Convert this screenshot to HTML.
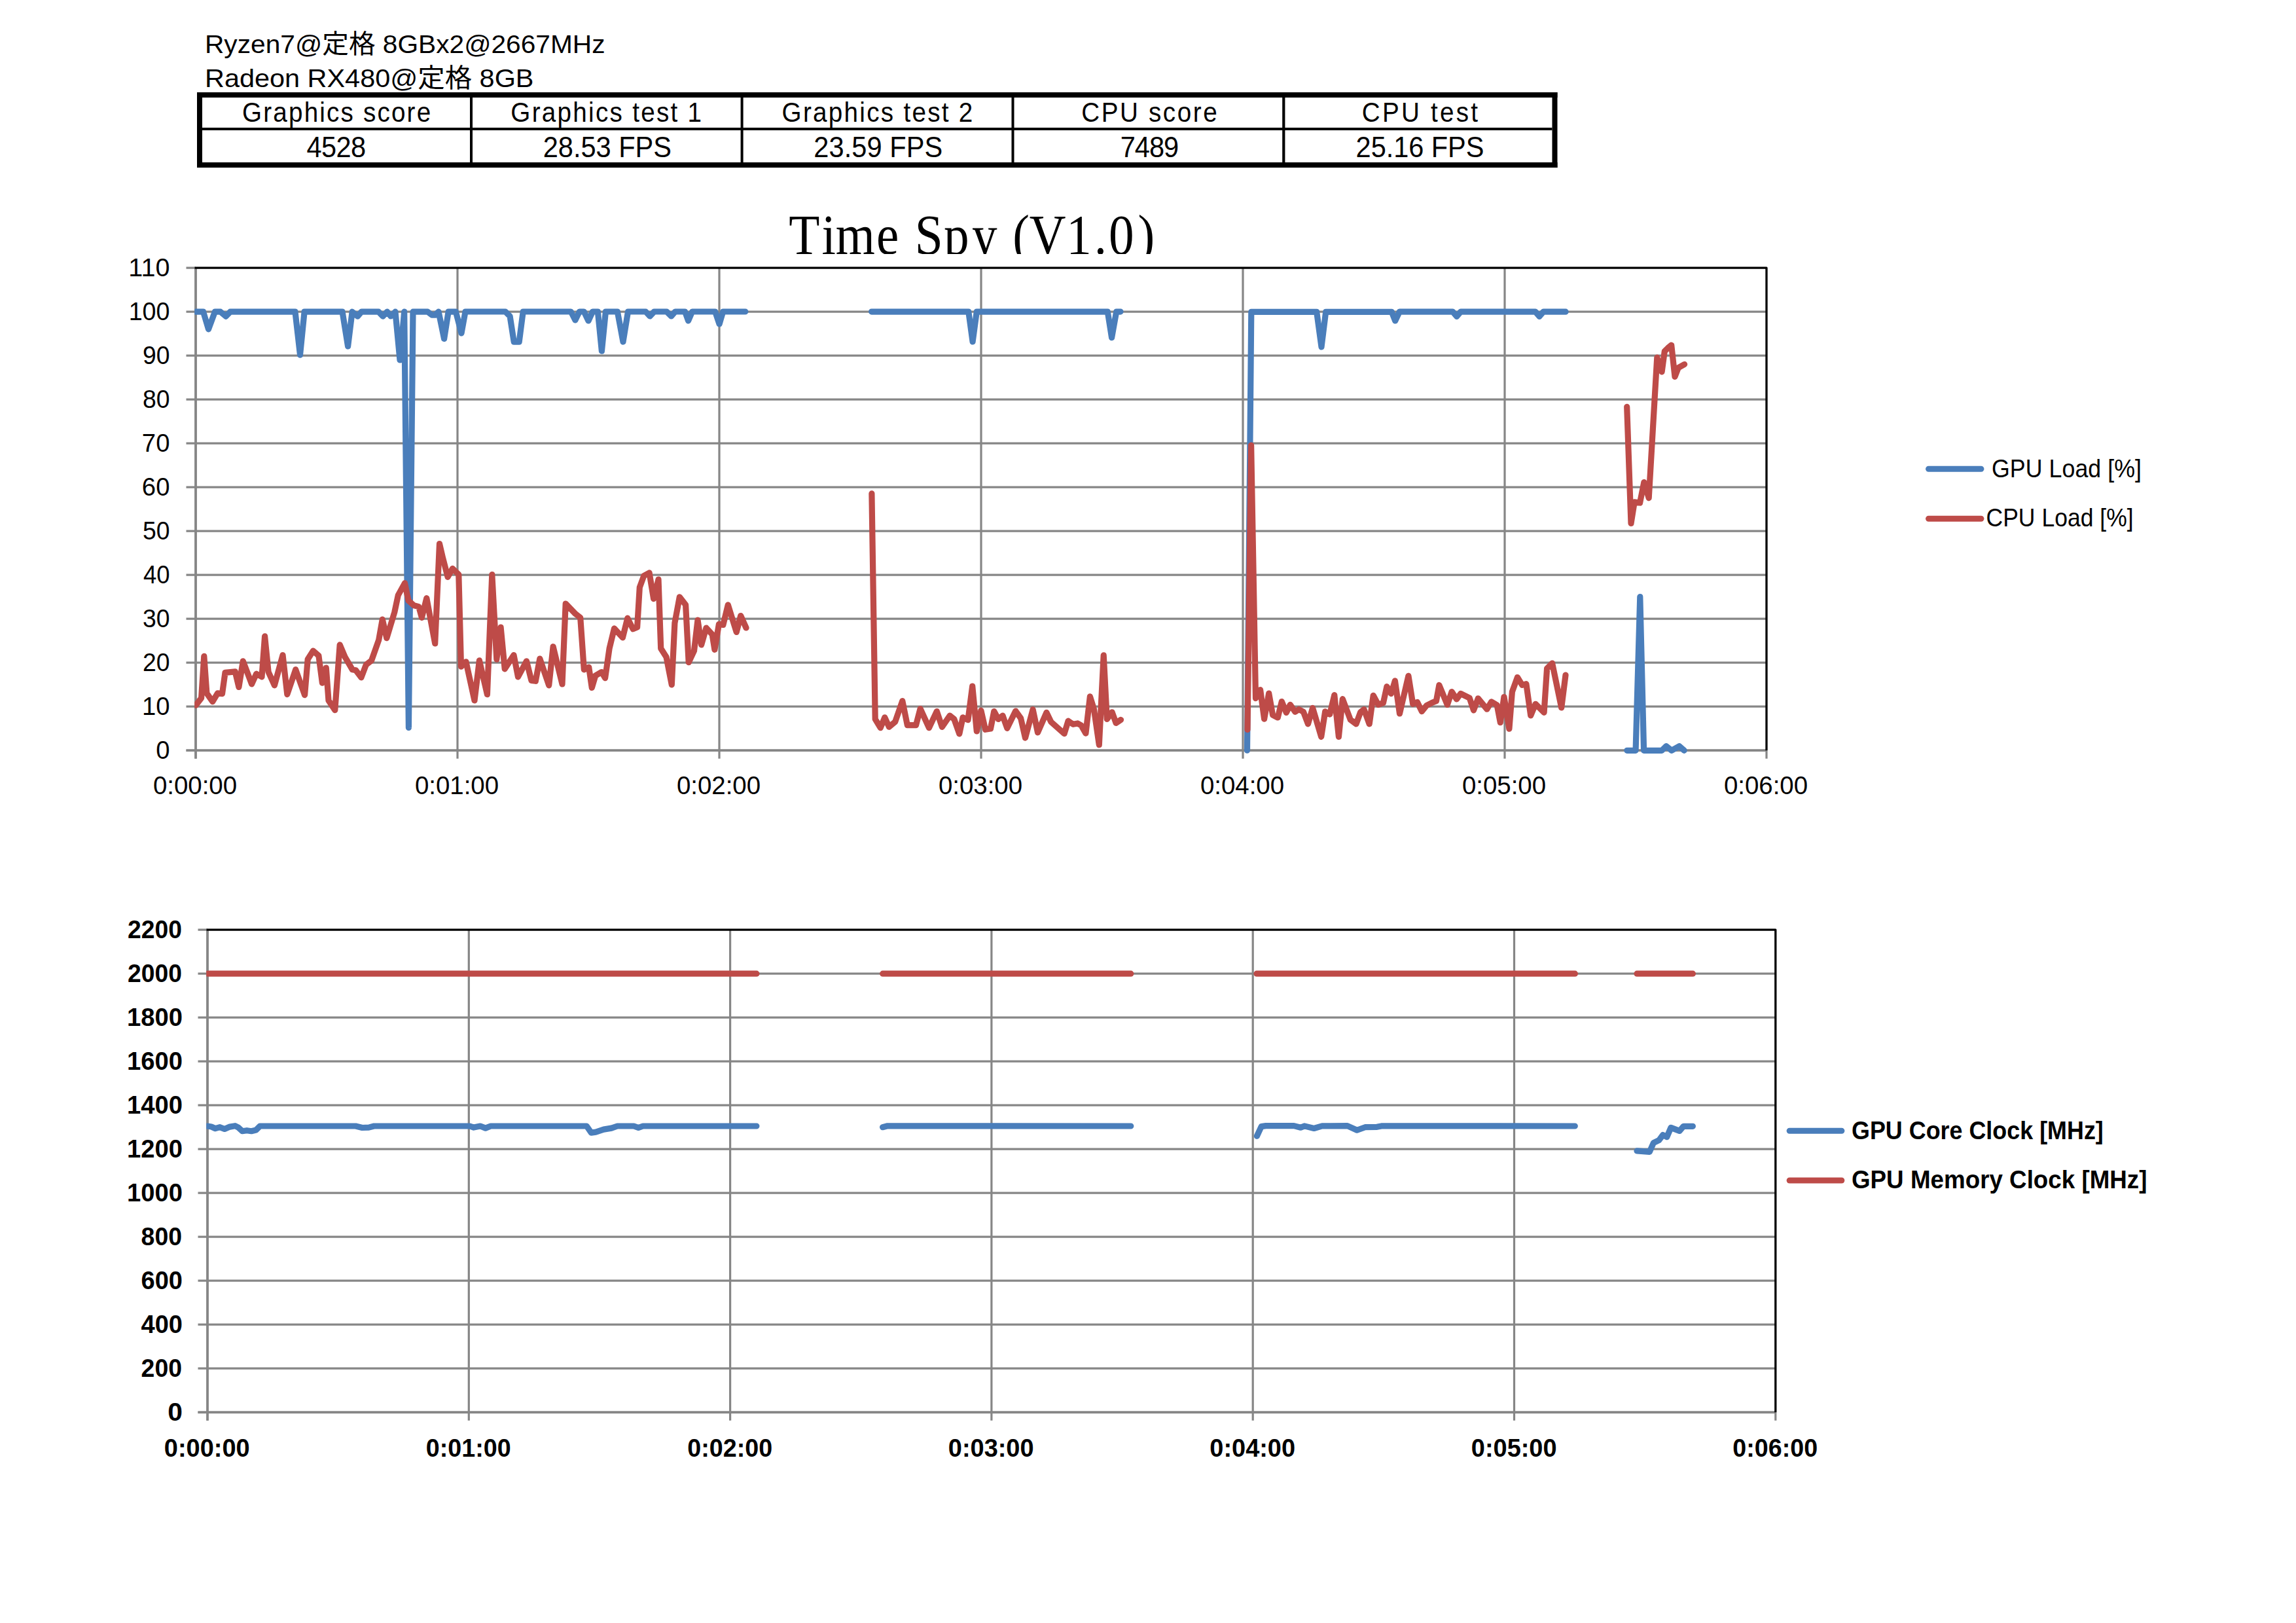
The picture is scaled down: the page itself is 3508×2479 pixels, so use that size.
<!DOCTYPE html><html><head><meta charset="utf-8"><title>Time Spy (V1.0)</title><style>html,body{margin:0;padding:0;background:#fff;overflow:hidden;width:3508px;height:2479px;}svg{display:block;}</style></head><body>
<svg width="3508" height="2479" viewBox="0 0 3508 2479">
<rect x="0" y="0" width="3508" height="2479" fill="#fff"/>
<defs><clipPath id="tc"><rect x="1100" y="250" width="800" height="138.0"/></clipPath></defs>
<rect x="301.0" y="141.0" width="2078.5" height="8.0" fill="#000"/>
<rect x="301.0" y="248.0" width="2078.5" height="8.0" fill="#000"/>
<rect x="301.0" y="141.0" width="8.0" height="115.0" fill="#000"/>
<rect x="2371.5" y="141.0" width="8.0" height="115.0" fill="#000"/>
<rect x="309.0" y="195.0" width="2062.5" height="4.0" fill="#000"/>
<rect x="718.0" y="149.0" width="4.0" height="99.0" fill="#000"/>
<rect x="1131.6" y="149.0" width="4.0" height="99.0" fill="#000"/>
<rect x="1545.5" y="149.0" width="4.0" height="99.0" fill="#000"/>
<rect x="1959.2" y="149.0" width="4.2" height="99.0" fill="#000"/>
<path d="M284.5 1146.2H2699.0 M284.5 1079.2H2699.0 M284.5 1012.2H2699.0 M284.5 945.2H2699.0 M284.5 878.2H2699.0 M284.5 811.2H2699.0 M284.5 744.2H2699.0 M284.5 677.2H2699.0 M284.5 610.2H2699.0 M284.5 543.2H2699.0 M284.5 476.2H2699.0 M284.5 409.2H299.0 M299.0 409.2V1158.7 M699.0 409.2V1158.7 M1099.0 409.2V1158.7 M1499.0 409.2V1158.7 M1899.0 409.2V1158.7 M2299.0 409.2V1158.7 M2699.0 1146.2V1158.7" stroke="#868686" stroke-width="3.2" fill="none"/>
<path d="M299.0 409.2V1158.7 M284.5 1146.2H2699.0" stroke="#868686" stroke-width="3.6" fill="none"/>
<path d="M297.5 409.2H2699.0V1146.2" stroke="#000" stroke-width="3.3" fill="none" stroke-linejoin="round"/>
<path d="M302.5 2157.2H2712.8 M302.5 2090.2H2712.8 M302.5 2023.2H2712.8 M302.5 1956.2H2712.8 M302.5 1889.2H2712.8 M302.5 1822.2H2712.8 M302.5 1755.2H2712.8 M302.5 1688.2H2712.8 M302.5 1621.2H2712.8 M302.5 1554.2H2712.8 M302.5 1487.2H2712.8 M302.5 1420.2H317.0 M317.0 1420.2V2169.7 M716.3 1420.2V2169.7 M1115.6 1420.2V2169.7 M1514.9 1420.2V2169.7 M1914.2 1420.2V2169.7 M2313.5 1420.2V2169.7 M2712.8 2157.2V2169.7" stroke="#868686" stroke-width="3.2" fill="none"/>
<path d="M317.0 1420.2V2169.7 M302.5 2157.2H2712.8" stroke="#868686" stroke-width="3.6" fill="none"/>
<path d="M315.5 1420.2H2712.8V2157.2" stroke="#000" stroke-width="3.3" fill="none" stroke-linejoin="round"/>
<defs><clipPath id="c1"><rect x="297.2" y="380" width="2420" height="800"/></clipPath><clipPath id="c2"><rect x="315.2" y="1390" width="2420" height="800"/></clipPath></defs>
<g clip-path="url(#c1)">
<polyline points="299.4,476.2 310.6,476.2 318.5,502.8 328.4,476.2 336.8,476.2 345.2,483.1 351.8,476.2 451.0,476.2 458.5,542.1 465.1,476.2 523.1,476.2 531.6,529.0 538.1,476.2 546.5,483.1 552.2,476.2 578.4,476.2 585.0,483.1 591.5,476.2 597.1,483.0 604.0,476.2 611.0,550.0 617.7,476.2 624.4,1111.4 631.0,476.2 653.3,476.2 659.9,481.2 664.5,481.2 670.1,476.2 678.6,517.5 685.1,476.2 696.4,476.2 705.0,509.0 711.0,476.0 772.1,476.0 779.1,483.0 785.2,522.1 793.2,522.1 799.2,476.0 872.3,476.0 878.9,489.0 885.3,476.0 892.3,476.0 899.0,490.0 905.4,476.0 913.4,476.0 919.4,536.2 925.4,476.0 943.4,476.0 952.0,522.1 959.5,476.0 986.5,476.0 992.9,483.0 999.5,476.0 1018.6,476.0 1025.6,483.0 1031.6,476.0 1046.6,476.0 1051.6,490.0 1057.6,476.0 1092.7,476.0 1099.1,495.0 1104.7,476.0 1138.8,476.0" fill="none" stroke="#4A7EBB" stroke-width="9.2" stroke-linejoin="round" stroke-linecap="round"/>
<polyline points="1331.6,476.1 1479.8,476.1 1486.1,522.0 1492.3,476.1 1692.3,476.1 1698.6,515.7 1705.7,476.1 1712.0,476.1" fill="none" stroke="#4A7EBB" stroke-width="9.2" stroke-linejoin="round" stroke-linecap="round"/>
<polyline points="1905.5,1146.2 1911.8,476.3 2011.7,476.3 2019.0,530.0 2025.7,476.3 2126.3,476.3 2131.7,490.0 2138.2,476.2 2219.7,476.2 2225.7,483.4 2231.7,476.2 2346.0,476.2 2352.0,483.4 2358.0,476.2 2392.1,476.2" fill="none" stroke="#4A7EBB" stroke-width="9.2" stroke-linejoin="round" stroke-linecap="round"/>
<polyline points="2485.8,1146.3 2499.1,1146.3 2505.8,911.6 2511.6,1146.3 2539.1,1146.3 2545.7,1139.7 2554.1,1146.3 2565.7,1139.7 2573.2,1146.3" fill="none" stroke="#4A7EBB" stroke-width="9.2" stroke-linejoin="round" stroke-linecap="round"/>
<polyline points="299.2,1077.3 307.6,1066.2 311.8,1002.4 315.9,1058.8 324.8,1071.7 332.5,1058.8 339.5,1059.7 344.0,1027.4 359.3,1025.9 364.9,1049.5 371.3,1009.8 384.6,1044.9 391.7,1029.2 400.0,1033.8 404.6,971.9 410.1,1026.4 419.4,1046.8 432.0,1000.6 438.8,1060.6 451.7,1022.7 465.6,1061.6 470.2,1007.0 478.5,994.1 486.9,1001.5 492.4,1043.2 498.3,1020.0 502.0,1069.9 511.8,1084.7 519.2,984.9 527.0,1003.4 538.4,1022.8 543.6,1023.7 551.9,1034.8 559.3,1015.4 567.6,1008.9 578.7,977.5 584.3,946.0 590.8,974.7 602.8,935.0 608.3,909.1 618.5,890.6 624.0,917.4 632.4,924.8 639.8,926.6 644.4,943.3 651.8,913.7 664.7,983.0 671.5,830.5 676.7,852.7 684.1,881.3 691.5,868.4 700.8,877.6 704.5,1018.2 712.0,1010.8 725.0,1069.9 732.4,1008.9 744.4,1060.7 751.8,877.6 758.8,1007.1 765.1,958.1 771.2,1021.8 785.0,1000.6 791.5,1033.9 804.5,1009.8 811.9,1039.4 818.3,1040.3 824.8,1006.1 838.7,1046.8 845.1,987.7 859.0,1045.0 864.2,922.0 879.3,937.7 886.7,943.3 892.3,1022.8 899.7,1019.1 904.3,1050.5 909.8,1032.0 919.1,1026.5 924.6,1035.7 931.1,990.4 938.5,959.9 951.4,973.8 958.8,944.2 967.1,960.8 973.6,958.1 977.3,897.1 983.8,879.5 992.1,874.9 998.6,914.6 1006.0,885.0 1009.7,990.4 1018.0,1003.4 1026.3,1045.9 1030.9,951.6 1038.3,911.9 1047.6,923.9 1052.2,1011.7 1060.5,994.1 1066.0,947.0 1071.6,984.9 1079.0,959.0 1088.2,969.2 1091.9,992.3 1098.4,953.4 1104.9,954.4 1112.3,923.9 1125.2,965.5 1131.7,940.5 1140.0,959.0" fill="none" stroke="#BE4B48" stroke-width="9.2" stroke-linejoin="round" stroke-linecap="round"/>
<polyline points="1331.9,753.9 1337.2,1098.4 1345.2,1111.7 1351.8,1095.8 1358.4,1110.3 1367.7,1102.4 1378.8,1070.6 1386.3,1107.7 1399.5,1107.7 1406.1,1082.5 1419.4,1111.7 1431.3,1086.5 1439.3,1110.3 1451.2,1093.1 1457.8,1098.4 1465.8,1120.9 1471.1,1095.8 1479.0,1099.7 1485.7,1048.0 1492.3,1117.0 1498.9,1085.2 1505.5,1114.3 1513.5,1113.0 1518.8,1086.5 1525.4,1098.4 1532.0,1093.1 1538.8,1112.3 1551.7,1086.0 1559.6,1097.0 1566.5,1127.1 1578.1,1083.6 1585.5,1118.8 1598.9,1088.3 1605.8,1102.6 1626.1,1120.6 1632.1,1101.2 1639.5,1106.3 1646.5,1104.9 1652.0,1108.1 1658.9,1120.1 1665.4,1063.8 1671.4,1083.2 1679.3,1137.7 1686.2,1000.9 1691.3,1098.4 1699.1,1087.8 1705.1,1104.4 1712.5,1099.4" fill="none" stroke="#BE4B48" stroke-width="9.2" stroke-linejoin="round" stroke-linecap="round"/>
<polyline points="1906.0,1114.5 1911.6,680.0 1918.5,1066.6 1925.6,1053.6 1931.6,1098.2 1938.7,1059.0 1944.6,1092.2 1952.3,1096.0 1958.3,1071.5 1965.3,1088.4 1971.3,1076.4 1978.9,1087.3 1984.4,1083.5 1991.5,1087.3 1998.5,1105.8 2005.6,1081.3 2018.7,1125.4 2024.7,1086.8 2031.7,1091.1 2038.8,1061.7 2045.4,1125.4 2051.3,1067.7 2063.3,1099.3 2072.0,1105.8 2078.6,1087.9 2084.0,1083.5 2092.2,1105.8 2098.2,1062.3 2105.8,1076.4 2113.4,1073.7 2118.9,1048.7 2125.4,1059.5 2131.4,1039.9 2138.5,1090.0 2151.9,1032.3 2158.7,1075.3 2165.5,1072.5 2172.3,1086.6 2179.6,1077.6 2187.6,1073.6 2194.4,1070.8 2198.9,1046.4 2211.3,1076.4 2218.1,1056.6 2225.5,1067.9 2231.7,1059.5 2245.3,1066.2 2251.5,1084.9 2258.3,1066.8 2271.9,1083.2 2278.7,1071.9 2287.2,1077.0 2292.3,1103.6 2298.0,1064.5 2305.9,1113.2 2310.4,1056.6 2318.4,1034.5 2325.7,1046.4 2331.9,1044.7 2338.7,1092.9 2346.1,1075.3 2359.1,1088.3 2363.6,1020.9 2371.6,1013.0 2385.7,1081.0 2392.0,1031.1" fill="none" stroke="#BE4B48" stroke-width="9.2" stroke-linejoin="round" stroke-linecap="round"/>
<polyline points="2485.7,621.4 2492.0,799.4 2497.2,766.9 2505.6,768.0 2511.9,736.5 2519.2,760.6 2531.8,546.1 2539.1,568.0 2543.3,536.6 2548.5,531.4 2553.7,527.2 2559.0,575.4 2564.2,561.8 2573.6,556.5" fill="none" stroke="#BE4B48" stroke-width="9.2" stroke-linejoin="round" stroke-linecap="round"/>
</g><g clip-path="url(#c2)">
<polyline points="317.0,1720.0 323.0,1721.0 329.0,1723.7 336.0,1721.7 343.1,1724.5 351.1,1721.1 359.1,1719.7 364.1,1722.1 370.1,1727.7 377.1,1726.7 384.1,1727.7 391.2,1726.1 397.2,1720.0 543.4,1720.0 553.4,1722.5 563.5,1722.1 571.5,1720.0 717.7,1720.0 723.8,1722.1 733.8,1720.0 741.8,1723.1 749.8,1720.0 896.3,1720.0 903.3,1730.1 910.3,1729.1 922.3,1725.1 934.3,1723.1 943.3,1720.0 968.4,1720.0 975.4,1722.5 982.4,1720.0 1155.9,1720.0" fill="none" stroke="#4A7EBB" stroke-width="9.2" stroke-linejoin="round" stroke-linecap="round"/>
<polyline points="1348.6,1721.7 1356.0,1719.8 1727.8,1720.0" fill="none" stroke="#4A7EBB" stroke-width="9.2" stroke-linejoin="round" stroke-linecap="round"/>
<polyline points="1920.4,1735.3 1927.2,1720.6 1934.0,1719.6 1977.0,1719.6 1987.2,1722.2 1992.9,1719.9 2007.6,1723.5 2020.0,1719.9 2058.6,1719.6 2073.3,1726.2 2085.7,1721.7 2103.9,1721.3 2110.6,1719.9 2406.3,1720.0" fill="none" stroke="#4A7EBB" stroke-width="9.2" stroke-linejoin="round" stroke-linecap="round"/>
<polyline points="2501.0,1757.9 2520.3,1759.4 2526.4,1745.7 2534.6,1741.7 2540.7,1733.5 2546.8,1736.6 2552.9,1722.4 2566.1,1727.4 2572.2,1720.3 2586.4,1720.3" fill="none" stroke="#4A7EBB" stroke-width="9.2" stroke-linejoin="round" stroke-linecap="round"/>
<polyline points="317.0,1487.2 1155.9,1487.2" fill="none" stroke="#BE4B48" stroke-width="9.2" stroke-linejoin="round" stroke-linecap="round"/>
<polyline points="1348.7,1487.2 1727.8,1487.2" fill="none" stroke="#BE4B48" stroke-width="9.2" stroke-linejoin="round" stroke-linecap="round"/>
<polyline points="1920.0,1487.2 2406.4,1487.2" fill="none" stroke="#BE4B48" stroke-width="9.2" stroke-linejoin="round" stroke-linecap="round"/>
<polyline points="2501.0,1487.2 2586.4,1487.2" fill="none" stroke="#BE4B48" stroke-width="9.2" stroke-linejoin="round" stroke-linecap="round"/>
</g>
<polyline points="2946.6,716.2 3026.9,716.2" fill="none" stroke="#4A7EBB" stroke-width="9.0" stroke-linejoin="round" stroke-linecap="round"/>
<polyline points="2946.6,792.3 3026.9,792.3" fill="none" stroke="#BE4B48" stroke-width="9.0" stroke-linejoin="round" stroke-linecap="round"/>
<polyline points="2734.2,1727.3 2813.8,1727.3" fill="none" stroke="#4A7EBB" stroke-width="9.1" stroke-linejoin="round" stroke-linecap="round"/>
<polyline points="2734.2,1803.0 2813.8,1803.0" fill="none" stroke="#BE4B48" stroke-width="9.1" stroke-linejoin="round" stroke-linecap="round"/>
<text id="t0" x="313.00" y="81.0" font-family="'Liberation Sans', 'Noto Sans CJK JP', sans-serif" font-size="39.5" font-weight="normal" text-anchor="start" fill="#000" textLength="611.60" lengthAdjust="spacingAndGlyphs">Ryzen7@定格 8GBx2@2667MHz</text>
<text id="t1" x="313.00" y="133.4" font-family="'Liberation Sans', 'Noto Sans CJK JP', sans-serif" font-size="39.5" font-weight="normal" text-anchor="start" fill="#000" textLength="502.49" lengthAdjust="spacingAndGlyphs">Radeon RX480@定格 8GB</text>
<text id="t2" x="558.80" y="186.2" font-family="'Liberation Sans', 'Noto Sans CJK JP', sans-serif" font-size="42" font-weight="normal" text-anchor="middle" fill="#000" transform="scale(0.92,1)" textLength="313.15" lengthAdjust="spacing">Graphics score</text>
<text id="t3" x="558.48" y="239.6" font-family="'Liberation Sans', 'Noto Sans CJK JP', sans-serif" font-size="45.2" font-weight="normal" text-anchor="middle" fill="#000" transform="scale(0.92,1)" textLength="98.62" lengthAdjust="spacing">4528</text>
<text id="t4" x="1006.74" y="186.2" font-family="'Liberation Sans', 'Noto Sans CJK JP', sans-serif" font-size="42" font-weight="normal" text-anchor="middle" fill="#000" transform="scale(0.92,1)" textLength="317.09" lengthAdjust="spacing">Graphics test 1</text>
<text id="t5" x="1008.59" y="239.6" font-family="'Liberation Sans', 'Noto Sans CJK JP', sans-serif" font-size="45.2" font-weight="normal" text-anchor="middle" fill="#000" transform="scale(0.92,1)" textLength="213.40" lengthAdjust="spacing">28.53 FPS</text>
<text id="t6" x="1457.01" y="186.2" font-family="'Liberation Sans', 'Noto Sans CJK JP', sans-serif" font-size="42" font-weight="normal" text-anchor="middle" fill="#000" transform="scale(0.92,1)" textLength="317.07" lengthAdjust="spacing">Graphics test 2</text>
<text id="t7" x="1458.42" y="239.6" font-family="'Liberation Sans', 'Noto Sans CJK JP', sans-serif" font-size="45.2" font-weight="normal" text-anchor="middle" fill="#000" transform="scale(0.92,1)" textLength="214.07" lengthAdjust="spacing">23.59 FPS</text>
<text id="t8" x="1908.64" y="186.2" font-family="'Liberation Sans', 'Noto Sans CJK JP', sans-serif" font-size="42" font-weight="normal" text-anchor="middle" fill="#000" transform="scale(0.92,1)" textLength="225.60" lengthAdjust="spacing">CPU score</text>
<text id="t9" x="1909.18" y="239.6" font-family="'Liberation Sans', 'Noto Sans CJK JP', sans-serif" font-size="45.2" font-weight="normal" text-anchor="middle" fill="#000" transform="scale(0.92,1)" textLength="97.05" lengthAdjust="spacing">7489</text>
<text id="t10" x="2358.10" y="186.2" font-family="'Liberation Sans', 'Noto Sans CJK JP', sans-serif" font-size="42" font-weight="normal" text-anchor="middle" fill="#000" transform="scale(0.92,1)" textLength="192.74" lengthAdjust="spacing">CPU test</text>
<text id="t11" x="2358.21" y="239.6" font-family="'Liberation Sans', 'Noto Sans CJK JP', sans-serif" font-size="45.2" font-weight="normal" text-anchor="middle" fill="#000" transform="scale(0.92,1)" textLength="212.92" lengthAdjust="spacing">25.16 FPS</text>
<text id="t12" x="259.40" y="1159.4" font-family="'Liberation Sans', 'Noto Sans CJK JP', sans-serif" font-size="39.2" font-weight="normal" text-anchor="end" fill="#000" textLength="21.25" lengthAdjust="spacingAndGlyphs">0</text>
<text id="t13" x="259.40" y="1092.4" font-family="'Liberation Sans', 'Noto Sans CJK JP', sans-serif" font-size="39.2" font-weight="normal" text-anchor="end" fill="#000" textLength="42.52" lengthAdjust="spacingAndGlyphs">10</text>
<text id="t14" x="259.40" y="1025.4" font-family="'Liberation Sans', 'Noto Sans CJK JP', sans-serif" font-size="39.2" font-weight="normal" text-anchor="end" fill="#000" textLength="41.48" lengthAdjust="spacingAndGlyphs">20</text>
<text id="t15" x="259.40" y="958.4" font-family="'Liberation Sans', 'Noto Sans CJK JP', sans-serif" font-size="39.2" font-weight="normal" text-anchor="end" fill="#000" textLength="41.48" lengthAdjust="spacingAndGlyphs">30</text>
<text id="t16" x="259.40" y="891.4" font-family="'Liberation Sans', 'Noto Sans CJK JP', sans-serif" font-size="39.2" font-weight="normal" text-anchor="end" fill="#000" textLength="40.49" lengthAdjust="spacingAndGlyphs">40</text>
<text id="t17" x="259.40" y="824.4" font-family="'Liberation Sans', 'Noto Sans CJK JP', sans-serif" font-size="39.2" font-weight="normal" text-anchor="end" fill="#000" textLength="41.48" lengthAdjust="spacingAndGlyphs">50</text>
<text id="t18" x="259.40" y="757.4" font-family="'Liberation Sans', 'Noto Sans CJK JP', sans-serif" font-size="39.2" font-weight="normal" text-anchor="end" fill="#000" textLength="42.54" lengthAdjust="spacingAndGlyphs">60</text>
<text id="t19" x="259.40" y="690.4" font-family="'Liberation Sans', 'Noto Sans CJK JP', sans-serif" font-size="39.2" font-weight="normal" text-anchor="end" fill="#000" textLength="42.54" lengthAdjust="spacingAndGlyphs">70</text>
<text id="t20" x="259.40" y="623.4" font-family="'Liberation Sans', 'Noto Sans CJK JP', sans-serif" font-size="39.2" font-weight="normal" text-anchor="end" fill="#000" textLength="41.48" lengthAdjust="spacingAndGlyphs">80</text>
<text id="t21" x="259.40" y="556.4" font-family="'Liberation Sans', 'Noto Sans CJK JP', sans-serif" font-size="39.2" font-weight="normal" text-anchor="end" fill="#000" textLength="41.48" lengthAdjust="spacingAndGlyphs">90</text>
<text id="t22" x="259.40" y="489.4" font-family="'Liberation Sans', 'Noto Sans CJK JP', sans-serif" font-size="39.2" font-weight="normal" text-anchor="end" fill="#000" textLength="62.77" lengthAdjust="spacingAndGlyphs">100</text>
<text id="t23" x="259.40" y="422.4" font-family="'Liberation Sans', 'Noto Sans CJK JP', sans-serif" font-size="39.2" font-weight="normal" text-anchor="end" fill="#000" textLength="63.03" lengthAdjust="spacingAndGlyphs">110</text>
<text id="t24" x="298.00" y="1213.1" font-family="'Liberation Sans', 'Noto Sans CJK JP', sans-serif" font-size="39.2" font-weight="normal" text-anchor="middle" fill="#000" textLength="128.21" lengthAdjust="spacingAndGlyphs">0:00:00</text>
<text id="t25" x="698.00" y="1213.1" font-family="'Liberation Sans', 'Noto Sans CJK JP', sans-serif" font-size="39.2" font-weight="normal" text-anchor="middle" fill="#000" textLength="128.21" lengthAdjust="spacingAndGlyphs">0:01:00</text>
<text id="t26" x="1098.00" y="1213.1" font-family="'Liberation Sans', 'Noto Sans CJK JP', sans-serif" font-size="39.2" font-weight="normal" text-anchor="middle" fill="#000" textLength="128.21" lengthAdjust="spacingAndGlyphs">0:02:00</text>
<text id="t27" x="1498.00" y="1213.1" font-family="'Liberation Sans', 'Noto Sans CJK JP', sans-serif" font-size="39.2" font-weight="normal" text-anchor="middle" fill="#000" textLength="128.21" lengthAdjust="spacingAndGlyphs">0:03:00</text>
<text id="t28" x="1898.00" y="1213.1" font-family="'Liberation Sans', 'Noto Sans CJK JP', sans-serif" font-size="39.2" font-weight="normal" text-anchor="middle" fill="#000" textLength="128.21" lengthAdjust="spacingAndGlyphs">0:04:00</text>
<text id="t29" x="2298.00" y="1213.1" font-family="'Liberation Sans', 'Noto Sans CJK JP', sans-serif" font-size="39.2" font-weight="normal" text-anchor="middle" fill="#000" textLength="128.21" lengthAdjust="spacingAndGlyphs">0:05:00</text>
<text id="t30" x="2698.00" y="1213.1" font-family="'Liberation Sans', 'Noto Sans CJK JP', sans-serif" font-size="39.2" font-weight="normal" text-anchor="middle" fill="#000" textLength="128.21" lengthAdjust="spacingAndGlyphs">0:06:00</text>
<text id="t31" x="279.00" y="2170.0" font-family="'Liberation Sans', 'Noto Sans CJK JP', sans-serif" font-size="39.6" font-weight="bold" text-anchor="end" fill="#000" textLength="22.69" lengthAdjust="spacingAndGlyphs">0</text>
<text id="t32" x="278.00" y="2103.0" font-family="'Liberation Sans', 'Noto Sans CJK JP', sans-serif" font-size="39.6" font-weight="bold" text-anchor="end" fill="#000" textLength="62.41" lengthAdjust="spacingAndGlyphs">200</text>
<text id="t33" x="279.00" y="2036.0" font-family="'Liberation Sans', 'Noto Sans CJK JP', sans-serif" font-size="39.6" font-weight="bold" text-anchor="end" fill="#000" textLength="63.43" lengthAdjust="spacingAndGlyphs">400</text>
<text id="t34" x="279.00" y="1969.0" font-family="'Liberation Sans', 'Noto Sans CJK JP', sans-serif" font-size="39.6" font-weight="bold" text-anchor="end" fill="#000" textLength="63.42" lengthAdjust="spacingAndGlyphs">600</text>
<text id="t35" x="278.00" y="1902.0" font-family="'Liberation Sans', 'Noto Sans CJK JP', sans-serif" font-size="39.6" font-weight="bold" text-anchor="end" fill="#000" textLength="62.41" lengthAdjust="spacingAndGlyphs">800</text>
<text id="t36" x="279.00" y="1835.0" font-family="'Liberation Sans', 'Noto Sans CJK JP', sans-serif" font-size="39.6" font-weight="bold" text-anchor="end" fill="#000" textLength="84.88" lengthAdjust="spacingAndGlyphs">1000</text>
<text id="t37" x="279.00" y="1768.0" font-family="'Liberation Sans', 'Noto Sans CJK JP', sans-serif" font-size="39.6" font-weight="bold" text-anchor="end" fill="#000" textLength="84.88" lengthAdjust="spacingAndGlyphs">1200</text>
<text id="t38" x="279.00" y="1701.0" font-family="'Liberation Sans', 'Noto Sans CJK JP', sans-serif" font-size="39.6" font-weight="bold" text-anchor="end" fill="#000" textLength="84.88" lengthAdjust="spacingAndGlyphs">1400</text>
<text id="t39" x="279.00" y="1634.0" font-family="'Liberation Sans', 'Noto Sans CJK JP', sans-serif" font-size="39.6" font-weight="bold" text-anchor="end" fill="#000" textLength="84.88" lengthAdjust="spacingAndGlyphs">1600</text>
<text id="t40" x="279.00" y="1567.0" font-family="'Liberation Sans', 'Noto Sans CJK JP', sans-serif" font-size="39.6" font-weight="bold" text-anchor="end" fill="#000" textLength="84.88" lengthAdjust="spacingAndGlyphs">1800</text>
<text id="t41" x="278.00" y="1500.0" font-family="'Liberation Sans', 'Noto Sans CJK JP', sans-serif" font-size="39.6" font-weight="bold" text-anchor="end" fill="#000" textLength="82.88" lengthAdjust="spacingAndGlyphs">2000</text>
<text id="t42" x="278.00" y="1433.0" font-family="'Liberation Sans', 'Noto Sans CJK JP', sans-serif" font-size="39.6" font-weight="bold" text-anchor="end" fill="#000" textLength="82.88" lengthAdjust="spacingAndGlyphs">2200</text>
<text id="t43" x="316.20" y="2224.9" font-family="'Liberation Sans', 'Noto Sans CJK JP', sans-serif" font-size="39.6" font-weight="bold" text-anchor="middle" fill="#000" textLength="130.84" lengthAdjust="spacingAndGlyphs">0:00:00</text>
<text id="t44" x="715.70" y="2224.9" font-family="'Liberation Sans', 'Noto Sans CJK JP', sans-serif" font-size="39.6" font-weight="bold" text-anchor="middle" fill="#000" textLength="129.76" lengthAdjust="spacingAndGlyphs">0:01:00</text>
<text id="t45" x="1115.20" y="2224.9" font-family="'Liberation Sans', 'Noto Sans CJK JP', sans-serif" font-size="39.6" font-weight="bold" text-anchor="middle" fill="#000" textLength="129.76" lengthAdjust="spacingAndGlyphs">0:02:00</text>
<text id="t46" x="1514.20" y="2224.9" font-family="'Liberation Sans', 'Noto Sans CJK JP', sans-serif" font-size="39.6" font-weight="bold" text-anchor="middle" fill="#000" textLength="130.78" lengthAdjust="spacingAndGlyphs">0:03:00</text>
<text id="t47" x="1913.70" y="2224.9" font-family="'Liberation Sans', 'Noto Sans CJK JP', sans-serif" font-size="39.6" font-weight="bold" text-anchor="middle" fill="#000" textLength="130.78" lengthAdjust="spacingAndGlyphs">0:04:00</text>
<text id="t48" x="2313.20" y="2224.9" font-family="'Liberation Sans', 'Noto Sans CJK JP', sans-serif" font-size="39.6" font-weight="bold" text-anchor="middle" fill="#000" textLength="130.78" lengthAdjust="spacingAndGlyphs">0:05:00</text>
<text id="t49" x="2712.20" y="2224.9" font-family="'Liberation Sans', 'Noto Sans CJK JP', sans-serif" font-size="39.6" font-weight="bold" text-anchor="middle" fill="#000" textLength="129.77" lengthAdjust="spacingAndGlyphs">0:06:00</text>
<text id="t50" x="3043.00" y="729.3" font-family="'Liberation Sans', 'Noto Sans CJK JP', sans-serif" font-size="39.0" font-weight="normal" text-anchor="start" fill="#000" textLength="228.96" lengthAdjust="spacingAndGlyphs">GPU Load [%]</text>
<text id="t51" x="3034.50" y="803.8" font-family="'Liberation Sans', 'Noto Sans CJK JP', sans-serif" font-size="39.0" font-weight="normal" text-anchor="start" fill="#000" textLength="225.17" lengthAdjust="spacingAndGlyphs">CPU Load [%]</text>
<text id="t52" x="2829.00" y="1739.6" font-family="'Liberation Sans', 'Noto Sans CJK JP', sans-serif" font-size="38.0" font-weight="bold" text-anchor="start" fill="#000" textLength="384.79" lengthAdjust="spacingAndGlyphs">GPU Core Clock [MHz]</text>
<text id="t53" x="2829.00" y="1814.9" font-family="'Liberation Sans', 'Noto Sans CJK JP', sans-serif" font-size="38.0" font-weight="bold" text-anchor="start" fill="#000" textLength="451.51" lengthAdjust="spacingAndGlyphs">GPU Memory Clock [MHz]</text>
<g clip-path="url(#tc)"><text transform="scale(0.900,1)" x="1339.22 1395.11 1418.67 1487.78 1527.78 1553.11 1602.33 1649.94 1689.94 1719.22 1747.44 1810.17 1857.44 1882.28 1931.72" y="387.8" font-family="'Liberation Serif', 'Noto Serif CJK SC', serif" font-size="85.8" fill="#000">Time Spy (V1.0)</text></g>
</svg></body></html>
